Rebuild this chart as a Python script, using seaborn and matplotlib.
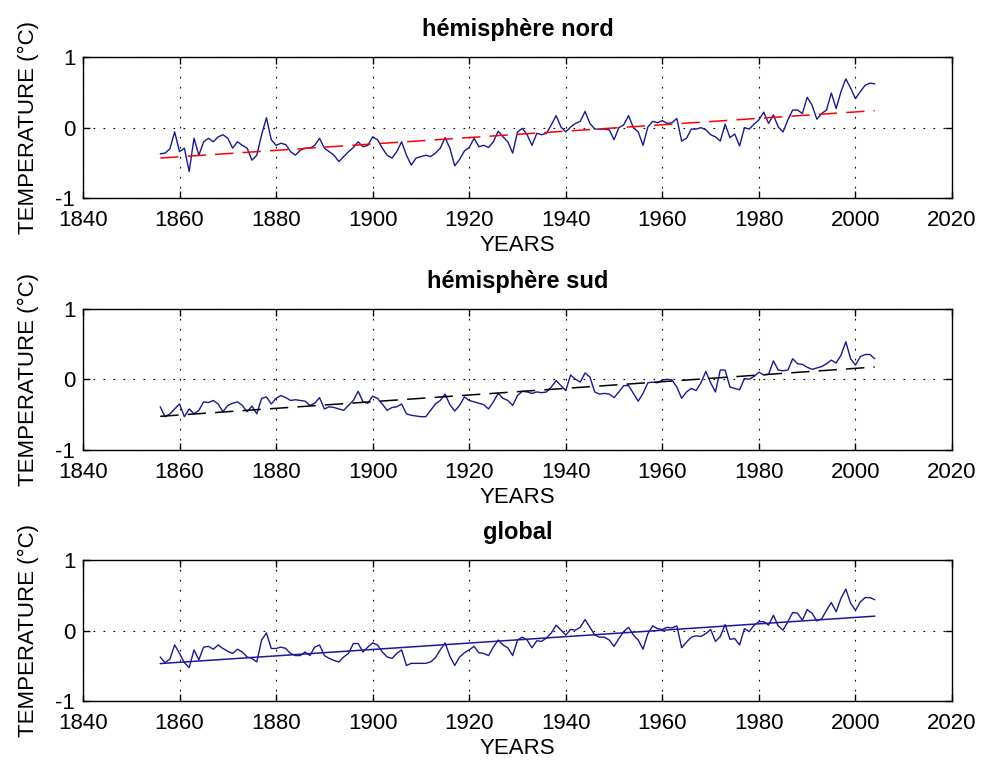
import numpy as np
import pandas as pd
import matplotlib
matplotlib.use("Agg")
import matplotlib.pyplot as plt
import seaborn as sns

# annual temperature anomalies, 1856-2004
years = np.arange(1856, 2005)

nord = [-0.37, -0.36, -0.30, -0.06, -0.34, -0.29, -0.62, -0.15, -0.39, -0.20,
        -0.15, -0.20, -0.13, -0.10, -0.15, -0.29, -0.20, -0.25, -0.29, -0.46,
        -0.39, -0.10, 0.14, -0.17, -0.25, -0.22, -0.24, -0.34, -0.39, -0.32,
        -0.29, -0.29, -0.25, -0.15, -0.29, -0.34, -0.39, -0.48, -0.41, -0.34,
        -0.28, -0.20, -0.27, -0.25, -0.13, -0.17, -0.29, -0.39, -0.43, -0.34,
        -0.20, -0.39, -0.53, -0.43, -0.41, -0.39, -0.41, -0.36, -0.29, -0.14,
        -0.29, -0.54, -0.45, -0.33, -0.28, -0.15, -0.27, -0.25, -0.28, -0.20,
        -0.05, -0.13, -0.20, -0.36, -0.06, -0.01, -0.10, -0.25, -0.08, -0.10,
        -0.08, 0.04, 0.17, 0.01, -0.06, 0.01, 0.06, 0.09, 0.23, 0.06,
        -0.02, -0.02, -0.02, -0.03, -0.17, 0.00, 0.04, 0.17, 0.00, -0.06,
        -0.25, 0.01, 0.09, 0.07, 0.10, 0.06, 0.07, 0.13, -0.19, -0.15,
        -0.02, -0.02, 0.00, -0.03, -0.10, -0.13, -0.19, 0.05, -0.14, -0.09,
        -0.26, 0.00, -0.02, 0.05, 0.11, 0.22, 0.06, 0.18, 0.01, -0.06,
        0.11, 0.25, 0.25, 0.20, 0.43, 0.32, 0.12, 0.20, 0.25, 0.49,
        0.27, 0.51, 0.69, 0.56, 0.41, 0.51, 0.60, 0.63, 0.62]

sud = [-0.39, -0.53, -0.49, -0.42, -0.35, -0.53, -0.42, -0.49, -0.44, -0.32,
       -0.33, -0.30, -0.35, -0.46, -0.37, -0.34, -0.32, -0.37, -0.46, -0.38,
       -0.49, -0.27, -0.25, -0.35, -0.27, -0.23, -0.26, -0.30, -0.29, -0.30,
       -0.31, -0.37, -0.34, -0.26, -0.42, -0.39, -0.40, -0.42, -0.44, -0.37,
       -0.30, -0.17, -0.32, -0.34, -0.24, -0.27, -0.35, -0.44, -0.40, -0.39,
       -0.35, -0.49, -0.51, -0.52, -0.53, -0.53, -0.44, -0.35, -0.30, -0.21,
       -0.36, -0.45, -0.37, -0.25, -0.30, -0.32, -0.34, -0.36, -0.42, -0.32,
       -0.20, -0.27, -0.30, -0.37, -0.23, -0.17, -0.18, -0.20, -0.18, -0.19,
       -0.18, -0.11, -0.02, -0.09, -0.16, 0.06, 0.00, -0.04, 0.09, 0.03,
       -0.18, -0.21, -0.20, -0.21, -0.26, -0.18, -0.09, -0.09, -0.20, -0.31,
       -0.20, -0.05, -0.04, -0.05, -0.01, 0.00, -0.01, -0.11, -0.27, -0.18,
       -0.13, -0.16, -0.05, 0.11, -0.05, -0.18, 0.13, 0.13, -0.11, -0.13,
       -0.15, 0.01, 0.00, 0.04, 0.10, 0.06, 0.07, 0.26, 0.13, 0.12,
       0.13, 0.29, 0.22, 0.21, 0.17, 0.14, 0.16, 0.18, 0.22, 0.27,
       0.23, 0.34, 0.53, 0.29, 0.20, 0.32, 0.35, 0.35, 0.29]

monde = [-0.37, -0.45, -0.40, -0.20, -0.32, -0.45, -0.52, -0.27, -0.41, -0.23,
         -0.22, -0.26, -0.20, -0.25, -0.29, -0.32, -0.26, -0.30, -0.37, -0.39,
         -0.44, -0.13, -0.03, -0.25, -0.25, -0.23, -0.25, -0.32, -0.35, -0.35,
         -0.30, -0.35, -0.23, -0.20, -0.35, -0.39, -0.42, -0.44, -0.37, -0.32,
         -0.18, -0.18, -0.30, -0.23, -0.17, -0.20, -0.30, -0.37, -0.39, -0.32,
         -0.27, -0.49, -0.46, -0.46, -0.46, -0.46, -0.44, -0.38, -0.27, -0.17,
         -0.36, -0.49, -0.37, -0.31, -0.27, -0.22, -0.31, -0.32, -0.35, -0.23,
         -0.13, -0.20, -0.24, -0.35, -0.13, -0.09, -0.13, -0.24, -0.14, -0.15,
         -0.10, -0.03, 0.08, 0.01, -0.06, 0.02, 0.01, 0.05, 0.16, 0.05,
         -0.06, -0.09, -0.09, -0.13, -0.22, -0.11, -0.01, 0.05, -0.06, -0.13,
         -0.26, -0.04, 0.07, 0.03, 0.02, 0.05, 0.04, 0.07, -0.24, -0.16,
         -0.09, -0.07, -0.08, -0.04, 0.02, -0.15, -0.08, 0.09, -0.12, -0.11,
         -0.20, 0.03, -0.01, 0.08, 0.13, 0.13, 0.08, 0.22, 0.07, 0.01,
         0.13, 0.26, 0.25, 0.15, 0.30, 0.25, 0.14, 0.17, 0.29, 0.40,
         0.27, 0.46, 0.59, 0.39, 0.29, 0.41, 0.47, 0.47, 0.44]

titles = ["hémisphère nord", "hémisphère sud", "global"]
series = [nord, sud, monde]
trend_colors = ["red", "black", "#1a1a9f"]
trend_dashes = [(12, 6), (12, 6), None]
blue = "#1a1a8f"

sns.set_theme(style="ticks", rc={"text.color": "black", "axes.labelcolor": "black",
                                 "xtick.color": "black", "ytick.color": "black"})
plt.rcParams['font.family'] = ['Liberation Sans', 'DejaVu Sans']
plt.rcParams['axes.unicode_minus'] = False

fig, axes = plt.subplots(3, 1, figsize=(9.83, 7.62), dpi=100)
fig.subplots_adjust(left=0.0844, right=0.9685, top=0.9252, bottom=0.0794, hspace=0.78)

for ax, title, vals, tc, td in zip(axes, titles, series, trend_colors, trend_dashes):
    df = pd.DataFrame({"year": years, "temp": vals})
    sns.lineplot(data=df, x="year", y="temp", ax=ax, color=blue, lw=1.0)
    kws = dict(color=tc, lw=1.1)
    if td is not None:
        kws["dashes"] = td
    sns.regplot(data=df, x="year", y="temp", ax=ax, scatter=False, ci=None, line_kws=kws)

    ax.set_xlim(1840, 2020)
    ax.set_ylim(-1, 1)
    ax.set_xticks(range(1840, 2021, 20))
    ax.set_yticks([-1, 0, 1])
    ax.grid(True, color="black", ls=(0, (1.5, 7.5)), lw=0.8)
    ax.tick_params(direction="in", top=True, right=True, length=5, width=1,
                   labelsize=16, colors="black")
    ax.tick_params(axis="x", pad=8.5)
    ax.tick_params(axis="y", pad=5.5)
    for s in ax.spines.values():
        s.set_linewidth(1)
        s.set_color("black")
    ax.set_title(title, fontsize=17, fontweight="bold", pad=15, color="black")
    ax.set_xlabel("YEARS", fontsize=16, labelpad=3)
    ax.set_ylabel("TEMPERATURE (°C)", fontsize=16, labelpad=12)

fig.savefig("out.png", dpi=100)
